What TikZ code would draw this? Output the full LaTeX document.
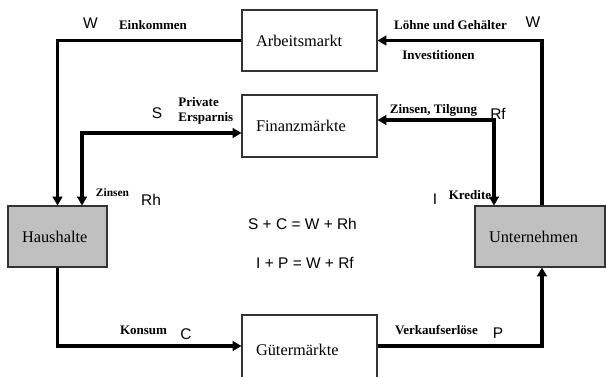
\documentclass[tikz,border=0pt]{standalone}
\usepackage{fontspec}
\setmainfont{Liberation Serif}
\setsansfont{Liberation Sans}
\usepackage{tikz}
\usetikzlibrary{arrows.meta,calc}
\definecolor{boxgray}{RGB}{192,192,192}
\tikzset{
	market/.style={draw=black!80,line width=0.6pt,minimum height=1.22cm,inner xsep=0.28cm,align=left,font=\fontsize{9.3}{11}\selectfont},
	sector/.style={market,fill=boxgray},
	flow/.style={line width=1.8pt,-{Triangle[length=5pt,width=5.5pt]}},
	twoway/.style={line width=1.8pt,{Triangle[length=5pt,width=5.5pt]}-{Triangle[length=5pt,width=5.5pt]}},
	lbl/.style={inner sep=0pt,font=\bfseries\fontsize{7.4}{8.5}\selectfont},
	sym/.style={inner sep=0pt,font=\sffamily\fontsize{8.8}{10}\selectfont}
}
\begin{document}
\begin{tikzpicture}[x=0.02cm,y=-0.02cm]
	\clip (0,0) rectangle (606,376);
	\node[market,text width=2.14cm] (arbeit) at (309.5,40.5) {Arbeitsmarkt};
	\node[market,text width=2.14cm,minimum height=1.24cm] (finanz) at (309.5,126) {Finanzmärkte};
	\node[market,text width=2.14cm,minimum height=1.4cm] (guter) at (309.5,350) {Gütermärkte};
	\node[sector,text width=1.42cm] (haus) at (57.5,236.5) {Haushalte};
	\node[sector,text width=2.04cm] (unter) at (540,236.5) {Unternehmen};
	\draw[flow] (arbeit.west) -| (haus.north);
	\draw[twoway] ($(finanz.west)+(0,7)$) -| ($(haus.north)+(24.5,0)$);
	\draw[flow] ($(unter.north)+(2,0)$) |- (arbeit.east);
	\draw[twoway] ($(finanz.east)+(0,-6)$) -| ($(unter.north)+(-46,0)$);
	\draw[flow] (haus.south) |- ($(guter.west)+(0,-4)$);
	\draw[flow] ($(guter.east)+(0,-4)$) -| ($(unter.south)+(2,0)$);
	\node[sym] (wl) at (90.5,23) {W};
	\node[lbl] (einkommen) at (153,25) {Einkommen};
	\node[sym] (s) at (157,113) {S};
	\node[lbl,anchor=west,align=left] (ersparnis) at (178,111) {Private\\Ersparnis};
	\node[lbl] (lohn) at (450.5,25) {Löhne und Gehälter};
	\node[sym] (wr) at (533,22.5) {W};
	\node[lbl] (invest) at (438.5,55.5) {Investitionen};
	\node[lbl] (tilgung) at (433.5,110) {Zinsen, Tilgung};
	\node[sym] (rf) at (498,114) {Rf};
	\node[lbl,font=\bfseries\fontsize{6.5}{8}\selectfont] (zinsen) at (112.5,192.5) {Zinsen};
	\node[sym] (rh) at (151,200) {Rh};
	\node[sym] (i) at (435,199) {I};
	\node[lbl] (kredite) at (470,195) {Kredite};
	\node[sym] (eq1) at (302.5,224) {S + C = W + Rh};
	\node[sym] (eq2) at (305,263) {I + P = W + Rf};
	\node[lbl] (konsum) at (143.5,330) {Konsum};
	\node[sym] (c) at (186,334) {C};
	\node[lbl] (erloese) at (436.5,330) {Verkaufserlöse};
	\node[sym] (p) at (498,333) {P};
\end{tikzpicture}
\end{document}
